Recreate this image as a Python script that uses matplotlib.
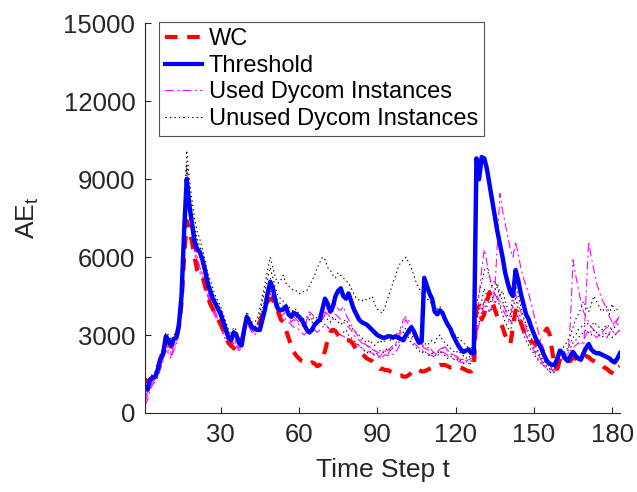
import numpy as np
import matplotlib
matplotlib.use("Agg")
import matplotlib.pyplot as plt
from matplotlib.lines import Line2D

t = list(range(1, 184))

threshold = [
    1000, 900, 1300, 1350, 1400, 1700, 2100, 2300, 2950, 2800,
    2600, 2850, 2900, 3400, 4500, 7000, 9000, 8000, 7300, 6600,
    6300, 6200, 5900, 5500, 5000, 4700, 4400, 4200, 4000, 3800,
    3500, 3200, 2900, 2800, 3100, 3000, 2700, 2600, 3200, 3700,
    3500, 3300, 3250, 3200, 3200, 3600, 4000, 4600, 5050, 4800,
    4300, 4000, 3950, 4000, 4100, 3800, 3700, 3850, 3800, 3700,
    3600, 3400, 3200, 3100, 3200, 3400, 3500, 3600, 4000, 4400,
    4200, 3900, 4100, 4500, 4700, 4800, 4500, 4400, 4600, 4300,
    4000, 3800, 3600, 3500, 3450, 3400, 3300, 3200, 3100, 3000,
    2950, 2900, 2900, 2950, 2950, 2900, 2950, 2900, 2850, 2800,
    3000, 3150, 3300, 3150, 2900, 2700, 2750, 5200, 4900, 4600,
    4400, 3900, 3800, 3950, 3850, 3600, 3400, 3250, 3000, 2800,
    2600, 2450, 2350, 2400, 2450, 2300, 2300, 9800, 9000, 9850,
    9800, 9400, 8800, 8200, 7600, 7000, 6500, 6000, 5400, 5000,
    4650, 4500, 5500, 5100, 4600, 4200, 3800, 3600, 3300, 3050,
    2800, 2650, 2450, 2200, 2000, 1900, 1850, 1850, 2100, 2400,
    2300, 2100, 2000, 2200, 2350, 2200, 2100, 2050, 2300, 2500,
    2650, 2450, 2350, 2300, 2300, 2250, 2200, 2150, 2100, 2000,
    1950, 2100, 2300,
]

wc = [
    1300, 1200, 1250, 1400, 1500, 1800, 2100, 2300, 2700, 2700,
    2550, 2700, 2850, 3300, 4200, 6000, 7400, 7000, 6600, 6000,
    5500, 5300, 5250, 4900, 4500, 4200, 4000, 3800, 3600, 3400,
    3200, 2900, 2700, 2600, 2500, 2400, 2500, 2700, 3200, 3600,
    3500, 3300, 3200, 3300, 3500, 3800, 4100, 4300, 4400, 4350,
    4200, 3900, 3600, 3500, 3200, 2900, 2600, 2350, 2200, 2100,
    2000, 1950, 1950, 1900, 1950, 1900, 1800, 1850, 2100, 2400,
    2800, 3100, 3200, 3150, 3000, 2900, 2850, 2800, 2800, 2750,
    2600, 2450, 2400, 2300, 2200, 2100, 2050, 2000, 1900, 1800,
    1700, 1700, 1650, 1650, 1600, 1550, 1500, 1450, 1450, 1400,
    1400, 1450, 1550, 1650, 1700, 1650, 1600, 1600, 1650, 1700,
    1750, 1800, 1800, 1850, 1850, 1850, 1800, 1750, 1750, 1800,
    1800, 1750, 1700, 1650, 1600, 1600, 1700, 4000, 4100, 3600,
    3800, 4300, 4650, 4300, 4000, 3700, 3500, 3300, 3000, 2800,
    2650, 3300, 3950, 3800, 3500, 3200, 3000, 2850, 2750, 2700,
    2650, 2800, 2950, 3100, 3250, 3050, 2400, 1800, 1700, 2050,
    2150, 2200, 2100, 2000, 2150, 2100, 2050, 2000, 2100, 2200,
    2150, 2050, 2000, 1950, 1900, 1850, 1750, 1700, 1600, 1550,
    1500, 1700, 1800,
]

used_1 = [
    300, 500, 900, 1100, 1200, 1400, 1700, 2000, 2500, 2400,
    2200, 2500, 2700, 3200, 4500, 7000, 9300, 8000, 7000, 6200,
    5700, 5400, 5200, 4800, 4500, 4200, 3900, 3700, 3500, 3300,
    3000, 2800, 2600, 2500, 2700, 2600, 2400, 2500, 3000, 3400,
    3300, 3100, 3000, 3100, 3300, 3600, 4000, 4500, 4700, 4500,
    4000, 3800, 3700, 3800, 3900, 3700, 3500, 3600, 3500, 3400,
    3400, 3300, 3500, 3900, 3800, 3700, 3600, 3550, 3600, 3800,
    4100, 4000, 3900, 4200, 4000, 3950, 4100, 3800, 3600, 3400,
    3200, 3050, 2900, 2800, 2700, 2600, 2550, 2500, 2400, 2250,
    2150, 2300, 2400, 2250, 2400, 2500, 2600, 2900, 3300, 3600,
    3700, 3550, 3450, 3200, 2900, 2800, 2650, 2550, 2500, 2550,
    2400, 2300, 2250, 2300, 2500, 2550, 2400, 2300, 2200, 2150,
    2100, 2050, 2100, 2000, 1950, 2000, 2100, 3800, 4200, 4000,
    4300, 4500, 4400, 4300, 4600, 6500, 8450, 7800, 7300, 6800,
    6300, 6000, 6600, 6100, 5600, 5200, 4900, 4600, 4200, 3800,
    3400, 3000, 2700, 2400, 2100, 1900, 1700, 1700, 1900, 2000,
    2100, 2000, 2100, 2200, 2100, 2000, 2100, 2200, 2300, 4500,
    6600, 6000, 5500, 5000, 4700, 4400, 4200, 3900, 3700, 3500,
    3300, 3600, 3750,
]

used_2 = [
    600, 800, 1100, 1300, 1400, 1600, 1900, 2200, 2600, 2500,
    2300, 2600, 2800, 3300, 4600, 6800, 8800, 7800, 6900, 6300,
    5900, 5600, 5300, 5000, 4700, 4400, 4100, 3900, 3600, 3400,
    3200, 3000, 2800, 2700, 2900, 2700, 2500, 2600, 3100, 3500,
    3400, 3200, 3100, 3200, 3400, 3700, 4100, 4400, 4600, 4400,
    4100, 3900, 3800, 3700, 3600, 3500, 3400, 3300, 3300, 3200,
    3100, 3000, 3100, 3200, 3300, 3200, 3100, 3200, 3300, 3400,
    3300, 3200, 3100, 3200, 3050, 3000, 2950, 2900, 2850, 2800,
    2700, 2650, 2600, 2500, 2450, 2400, 2350, 2300, 2250, 2200,
    2100, 2150, 2250, 2200, 2300, 2250, 2350, 2500, 2700, 2900,
    3100, 3000, 2900, 2700, 2600, 2500, 2400, 2350, 2300, 2250,
    2200, 2150, 2200, 2300, 2350, 2300, 2200, 2150, 2100, 2050,
    2000, 1950, 1950, 1900, 1900, 1950, 2000, 3500, 4500, 5500,
    6300, 5800, 5300, 4800, 4600, 4400, 4300, 4200, 4000, 3800,
    3700, 4200, 4600, 4200, 3900, 3600, 3300, 3000, 2800, 2600,
    2400, 2200, 2000, 1900, 1800, 1700, 1650, 1700, 1800, 2000,
    2100, 2200, 2300, 2400, 2500, 2600, 2700, 2600, 2800, 3000,
    3200, 3100, 3000, 2900, 3000, 3100, 3000, 2900, 3100, 3200,
    3000, 3100, 3200,
]

used_3 = [
    400, 700, 1000, 1200, 1300, 1500, 1800, 2100, 2400, 2300,
    2100, 2400, 2600, 3100, 4300, 6500, 9000, 8200, 7200, 6500,
    6000, 5600, 5400, 5000, 4600, 4300, 4000, 3800, 3600, 3300,
    3100, 2900, 2700, 2600, 2800, 2650, 2500, 2600, 3100, 3500,
    3400, 3200, 3100, 3200, 3400, 3800, 4200, 4600, 4900, 4600,
    4200, 4000, 3900, 3900, 4000, 3800, 3700, 3700, 3600, 3500,
    3400, 3300, 3600, 3700, 3600, 3500, 3400, 3500, 3700, 3900,
    3800, 3700, 3600, 3800, 3700, 3600, 3500, 3400, 3300, 3200,
    3000, 2900, 2800, 2700, 2650, 2600, 2500, 2450, 2400, 2350,
    2300, 2350, 2450, 2400, 2500, 2600, 2700, 2800, 3100, 3400,
    3600, 3400, 3200, 3000, 2800, 2700, 2600, 2500, 2450, 2400,
    2350, 2300, 2350, 2450, 2500, 2450, 2400, 2300, 2250, 2200,
    2150, 2100, 2050, 2000, 2050, 2100, 2150, 3000, 3400, 3800,
    4200, 4000, 3900, 4100, 4300, 4500, 4200, 4000, 3800, 3600,
    3400, 3600, 3900, 3700, 3400, 3200, 3000, 2800, 2600, 2400,
    2200, 2000, 1900, 1800, 1700, 1600, 1550, 1600, 1800, 2000,
    2100, 2200, 2100, 3500, 5900, 5300, 4800, 4300, 3900, 3700,
    3500, 3300, 3200, 3100, 3000, 3100, 3200, 3300, 3200, 3400,
    3500, 3600, 3700,
]

unused_1 = [
    1200, 1100, 1400, 1500, 1600, 1900, 2300, 2500, 3100, 3000,
    2800, 3000, 3100, 3600, 5000, 7500, 10100, 9000, 8200, 7500,
    7000, 6700, 6300, 5900, 5400, 5100, 4800, 4500, 4300, 4100,
    3800, 3500, 3200, 3000, 3300, 3200, 2900, 2800, 3400, 3900,
    3700, 3500, 3500, 3600, 4000, 4500, 5000, 5500, 6000, 5600,
    5200, 5000, 5100, 5300, 5000, 4900, 4800, 4700, 4700, 4600,
    4600, 4700, 4700, 4900, 5100, 5300, 5600, 5800, 6000, 5900,
    5600, 5500, 5300, 5200, 5400, 5300, 5200, 5100, 5000, 4800,
    4600, 4400, 4350, 4300, 4400, 4350, 4400, 4500, 4200, 4000,
    3900, 3850, 4100, 4400, 4700, 5000, 5300, 5600, 5800, 5900,
    6000, 5800, 5600, 5300, 5000, 4800, 4600, 4500, 4400, 4300,
    4200, 4100, 4000, 4100, 3900, 3700, 3500, 3300, 3100, 3000,
    2900, 2800, 2700, 2600, 2500, 2500, 2600, 4200, 4600, 5000,
    5500, 5600, 5200, 4900, 5100, 4800, 4500, 4700, 4300, 4000,
    3800, 4600, 4900, 4500, 4100, 3700, 3400, 3100, 2900, 2700,
    2500, 2300, 2100, 2000, 1900, 1800, 1700, 1750, 2000, 2300,
    2500, 2600, 2800, 3000, 3300, 3600, 3800, 4000, 4300, 4100,
    3900, 4200, 4500, 4300, 4100, 3900, 4000, 4100, 3800, 4200,
    3900, 4000, 4100,
]

unused_2 = [
    1000, 900, 1200, 1300, 1500, 1700, 2100, 2400, 2900, 2800,
    2600, 2800, 3000, 3500, 4800, 7200, 9600, 8600, 7700, 7100,
    6700, 6400, 6100, 5700, 5200, 4900, 4600, 4400, 4200, 4000,
    3700, 3400, 3100, 2900, 3200, 3100, 2800, 2700, 3300, 3800,
    3600, 3400, 3300, 3400, 3800, 4300, 4700, 5200, 5600, 5200,
    4800, 4500, 4400, 4300, 4200, 4100, 4000, 3900, 4000, 3800,
    3700, 3600, 3700, 3800, 3700, 3600, 3700, 3800, 3900, 3700,
    3600, 3500, 3700, 3600, 3500, 3400, 3500, 3600, 3400, 3300,
    3200, 3100, 3000, 2900, 2800, 2700, 2800, 2700, 2600, 2700,
    2800, 2700, 2800, 2900, 2800, 2900, 3000, 3100, 3200, 3100,
    3300, 3200, 3000, 2900, 2800, 2700, 2800, 2700, 2600, 2700,
    2800, 2700, 2900, 3000, 2800, 2700, 2600, 2500, 2400, 2300,
    2400, 2300, 2200, 2100, 2200, 2100, 2300, 3600, 3900, 4300,
    4800, 4500, 4200, 4400, 4700, 5000, 4600, 4300, 4000, 3700,
    3500, 4100, 4400, 4000, 3600, 3300, 3000, 2800, 2600, 2500,
    2300, 2200, 2000, 1900, 1800, 1700, 1600, 1700, 1900, 2100,
    2200, 2400, 2500, 2700, 2900, 3000, 3200, 3300, 3400, 3500,
    3400, 3300, 3500, 3400, 3300, 3200, 3300, 3400, 3300, 3200,
    3300, 3400, 3500,
]

unused_3 = [
    1100, 1000, 1300, 1400, 1500, 1800, 2000, 2300, 2800, 2700,
    2500, 2700, 2900, 3400, 4600, 7000, 9400, 8400, 7500, 6900,
    6500, 6200, 5900, 5500, 5000, 4700, 4400, 4200, 4000, 3800,
    3600, 3300, 3000, 2800, 3100, 3000, 2700, 2600, 3200, 3700,
    3500, 3300, 3200, 3300, 3600, 4000, 4400, 4800, 5200, 4900,
    4500, 4300, 4200, 4100, 4000, 3900, 3800, 3700, 3700, 3600,
    3500, 3400, 3500, 3600, 3500, 3400, 3500, 3600, 3500, 3400,
    3300, 3200, 3300, 3200, 3100, 3000, 3100, 3200, 3000, 2900,
    2800, 2700, 2600, 2500, 2400, 2300, 2400, 2300, 2200, 2300,
    2400, 2300, 2400, 2500, 2400, 2500, 2600, 2700, 2800, 2900,
    3000, 2900, 2700, 2600, 2500, 2400, 2300, 2400, 2300, 2200,
    2300, 2200, 2300, 2400, 2300, 2200, 2100, 2200, 2100, 2000,
    2100, 2000, 1900, 2000, 1900, 1900, 2000, 3200, 3500, 3900,
    4300, 4100, 3900, 4000, 4200, 4400, 4100, 3800, 3500, 3300,
    3100, 3700, 4000, 3600, 3300, 3000, 2800, 2600, 2400, 2300,
    2100, 2000, 1900, 1800, 1700, 1600, 1500, 1600, 1800, 2000,
    2100, 2300, 2400, 2500, 2700, 2800, 2900, 3000, 3100, 3200,
    3100, 3000, 3200, 3100, 3000, 2900, 3000, 3100, 3000, 2900,
    3000, 3100, 3200,
]

x_ticks = [30, 60, 90, 120, 150, 180]
y_ticks = [0, 3000, 6000, 9000, 12000, 15000]
legend_labels = ["WC", "Threshold", "Used Dycom Instances", "Unused Dycom Instances"]

plt.rcParams['font.family'] = ['Liberation Sans', 'DejaVu Sans']
plt.rcParams['lines.scale_dashes'] = False
plt.rcParams['mathtext.fontset'] = 'custom'
plt.rcParams['mathtext.rm'] = 'Liberation Sans'
plt.rcParams['mathtext.it'] = 'Liberation Sans'

fig = plt.figure(figsize=(6.37, 4.92), dpi=100)
ax = fig.add_axes([0.2276, 0.1606, 0.7457, 0.792])

dark = (0.15, 0.15, 0.15)
mag_dash = (0, (6, 2.5, 1.5, 2.5))
dot_dash = (0, (1, 2.2))
red_dash = (0, (9, 7))

for ys in (unused_1, unused_2, unused_3):
    ax.plot(t, ys, color='black', lw=0.8, linestyle=dot_dash)
for ys in (used_1, used_2, used_3):
    ax.plot(t, ys, color=(1, 0, 1), lw=0.8, linestyle=mag_dash)
ax.plot(t, wc, color=(1, 0, 0), lw=3, linestyle=red_dash)
ax.plot(t, threshold, color=(0, 0, 1), lw=3.2, linestyle='-')

ax.set_xlim(1, 183)
ax.set_ylim(0, 15000)
ax.set_xticks(x_ticks)
ax.set_yticks(y_ticks)
ax.tick_params(direction='in', length=4, width=0.8, colors=dark, labelsize=18.5, pad=7)
for side in ('top', 'right'):
    ax.spines[side].set_visible(False)
for side in ('left', 'bottom'):
    ax.spines[side].set_color(dark)
    ax.spines[side].set_linewidth(0.8)

ax.set_xlabel("Time Step t", fontsize=19, color=dark, labelpad=8)
ax.set_ylabel(r"AE$_\mathregular{t}$", fontsize=19, color=dark, labelpad=16)

handles = [
    Line2D([], [], color=(1, 0, 0), lw=3, linestyle=red_dash),
    Line2D([], [], color=(0, 0, 1), lw=3, linestyle='-'),
    Line2D([], [], color=(1, 0, 1), lw=0.8, linestyle=mag_dash),
    Line2D([], [], color='black', lw=0.8, linestyle=dot_dash),
]
leg = ax.legend(handles, legend_labels, loc='upper left', bbox_to_anchor=(0.03, 1.003),
                fontsize=17, frameon=True, fancybox=False, edgecolor=dark,
                handlelength=1.55, handletextpad=0.3, borderpad=0.25,
                labelspacing=0.2, borderaxespad=0.0)
leg.get_frame().set_linewidth(0.8)
for txt in leg.get_texts():
    txt.set_color('black')

fig.savefig("out.png", dpi=100)
